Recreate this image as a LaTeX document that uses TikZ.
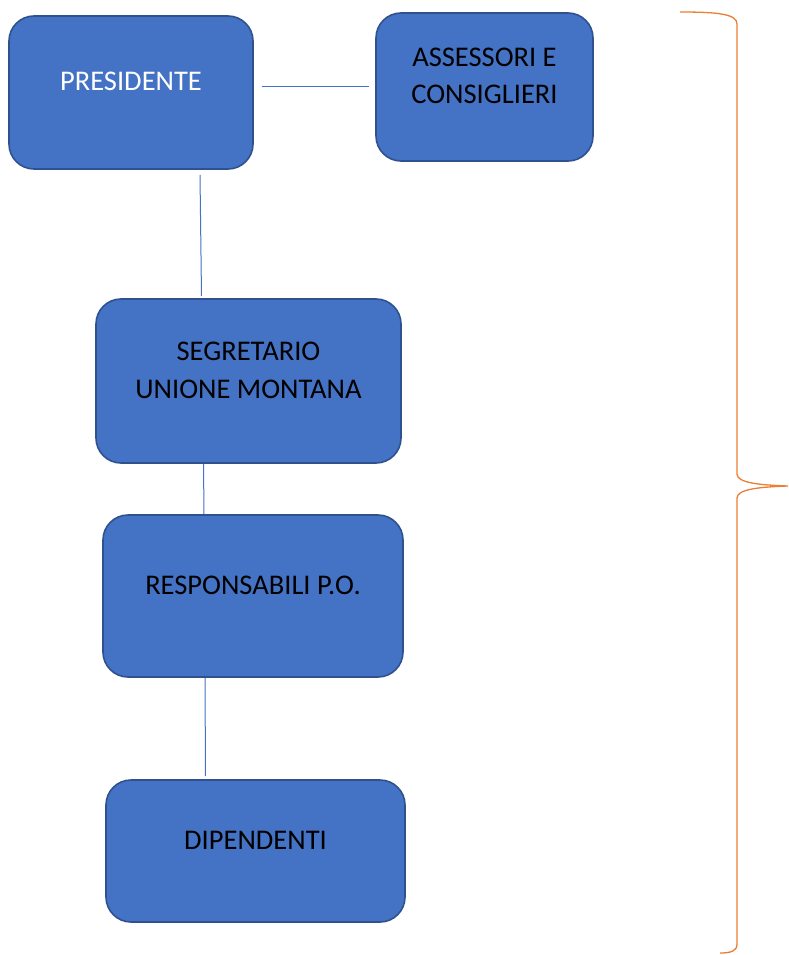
\documentclass[tikz,border=0pt]{standalone}
\usepackage{fontspec}
\setmainfont{Carlito}
\usetikzlibrary{calc,positioning}
\definecolor{BoxFill}{HTML}{4472C4}
\definecolor{BoxDraw}{HTML}{2F528F}
\definecolor{LinkLine}{HTML}{4472C4}
\definecolor{BraceLine}{HTML}{ED7D31}

\begin{document}
\begin{tikzpicture}[
        x=1pt, y=-1pt,
        font=\fontsize{28.5}{37.5}\selectfont,
        orgbox/.style={
            rounded corners=25pt,
            draw=BoxDraw,
            fill=BoxFill,
            line width=1.6pt,
            align=center,
            text depth=22pt,
            inner sep=0pt
        },
        link/.style={draw=LinkLine, line width=1pt},
        brace/.style={draw=BraceLine, line width=1.3pt}
    ]
        \useasboundingbox (0,0) rectangle (788,955);

        \node[orgbox, minimum width=244pt, minimum height=153pt, text=white] (pres) at (131,92.5) {PRESIDENTE};
        \node[orgbox, minimum width=217pt, minimum height=148pt] (assess) at (484.5,87) {ASSESSORI E\\CONSIGLIERI};
        \node[orgbox, minimum width=305pt, minimum height=164pt] (segr) at (248.5,381) {SEGRETARIO\\UNIONE MONTANA};
        \node[orgbox, minimum width=300pt, minimum height=162pt] (resp) at (253,596) {RESPONSABILI P.O.};
        \node[orgbox, minimum width=299pt, minimum height=142pt] (dip) at (255.5,851) {DIPENDENTI};

        \draw[link, shorten <=8pt, shorten >=6pt] (pres.east |- assess.west) -- (assess.west);
        \draw[link] ($(pres.south)+(69,5)$) -- ($(segr.north)+(-47,-2)$);
        \draw[link] ($(segr.south)+(-45,0)$) -- ($(resp.north)+(-49,0)$);
        \draw[link] ($(resp.south)+(-48,0)$) -- ($(dip.north)+(-50,-3)$);

        % graffa a destra
        \draw[brace] (680,12) .. controls (718,12) and (737,14) .. (737,24)
            -- (737,474) .. controls (737,483) and (760,485) .. (788,486)
            .. controls (760,487) and (737,489) .. (737,498)
            -- (737,944) .. controls (737,951) and (731,953) .. (720,953);
    \end{tikzpicture}
\end{document}
